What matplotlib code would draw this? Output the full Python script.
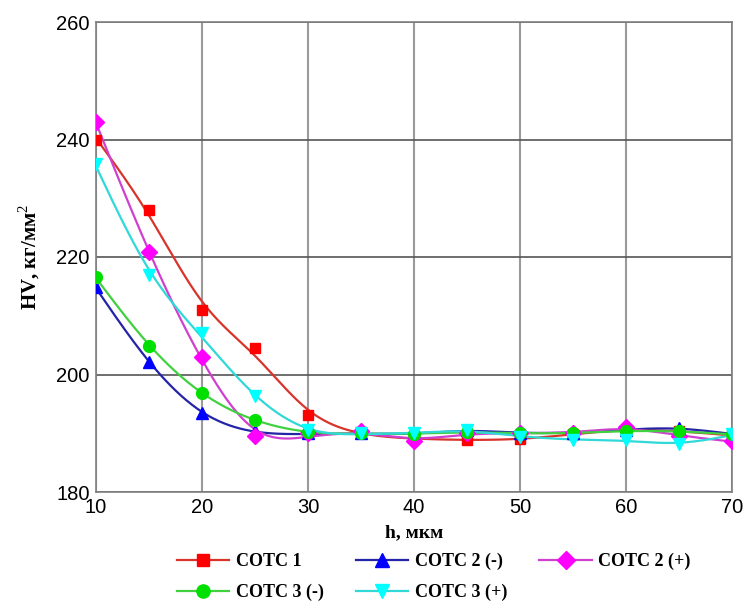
import numpy as np
import matplotlib
matplotlib.use("Agg")
import matplotlib.pyplot as plt
from matplotlib.lines import Line2D

plt.rcParams["mathtext.fontset"] = "custom"
plt.rcParams["mathtext.rm"] = "Liberation Serif"

h = [10, 15, 20, 25, 30, 35, 40, 45, 50, 55, 60, 65, 70]

sots1 = [240.0, 228.0, 211.0, 204.5, 193.1, 190.2, 189.2, 188.9, 189.0, 189.8, 190.6, 190.3, 189.6]
sots2_minus = [214.9, 202.1, 193.4, 190.3, 190.0, 190.0, 189.8, 190.6, 190.0, 190.1, 190.6, 190.9, 189.8]
sots2_plus = [243.0, 220.9, 202.9, 189.5, 190.0, 190.3, 188.7, 190.0, 190.0, 190.0, 191.0, 189.5, 188.6]
sots3_minus = [216.6, 204.9, 196.8, 192.3, 190.2, 190.0, 189.9, 190.2, 190.0, 190.0, 190.4, 190.3, 189.8]
sots3_plus = [235.9, 216.9, 207.1, 196.3, 190.5, 190.1, 190.0, 190.5, 189.4, 188.9, 188.9, 188.1, 189.8]

labels = ["СОТС 1", "СОТС 2 (-)", "СОТС 2 (+)", "СОТС 3 (-)", "СОТС 3 (+)"]
series = [sots1, sots2_minus, sots2_plus, sots3_minus, sots3_plus]
marker_colors = ["#ff0000", "#0000ff", "#ff00ff", "#00e000", "#00ffff"]
line_colors = ["#d8342c", "#2424a8", "#d040d0", "#40d040", "#30d8d8"]
markers = ["s", "^", "D", "o", "v"]
msizes = [7.5, 8.5, 8.5, 8.5, 8.5]


def smooth(x, y, lam=6000.0, step=0.1):
    x = np.asarray(x, float)
    y = np.asarray(y, float)
    xs = np.arange(x[0], x[-1] + step / 2, step)
    n = len(xs)
    idx = np.rint((x - x[0]) / step).astype(int)
    W = np.zeros(n)
    W[idx] = 1.0
    b = np.zeros(n)
    b[idx] = y
    D = np.diff(np.eye(n), 2, axis=0)
    A = np.diag(W) + lam * D.T @ D
    z = np.linalg.solve(A, b)
    return xs, z


fig = plt.figure(figsize=(7.44, 6.04), dpi=100)
ax = fig.add_axes([96 / 744, 1 - 492 / 604, (732 - 96) / 744, (492 - 22) / 604])

for ys, mc, lc, mk, ms in zip(series, marker_colors, line_colors, markers, msizes):
    sx, sy = smooth(h, ys)
    ax.plot(sx, sy, color=lc, lw=1.6, zorder=3)
    ax.plot(h, ys, linestyle="none", marker=mk, markersize=ms, color=mc,
            markeredgecolor=mc, zorder=4)

ax.set_xlim(10, 70)
ax.set_ylim(180, 260)
ax.set_xticks(range(10, 71, 10))
ax.set_yticks(range(180, 261, 20))
ax.tick_params(length=0, labelsize=14.5, pad=4.5)
for lab in ax.get_xticklabels() + ax.get_yticklabels():
    lab.set_fontfamily("Liberation Sans")
ax.xaxis.grid(True, color="#9a9a9a", lw=1.5)
ax.yaxis.grid(True, color="#555555", lw=1.2)
ax.set_axisbelow(True)
for s in ax.spines.values():
    s.set_color("#808080")
    s.set_linewidth(1.2)

ax.set_ylabel("HV, кг/мм$^{\\mathrm{2}}$", fontfamily="Liberation Serif", fontweight="bold",
              fontsize=15, labelpad=10)
ax.set_xlabel("h, мкм", fontfamily="Liberation Serif", fontweight="bold",
              fontsize=14, labelpad=5)

handles = []
for lab, mc, lc, mk, ms in zip(labels, marker_colors, line_colors, markers, msizes):
    handles.append(Line2D([0], [0], color=lc, lw=1.6, marker=mk, markersize=ms + 1,
                          markerfacecolor=mc, markeredgecolor=mc))
order = [0, 3, 1, 4, 2]
leg = fig.legend([handles[i] for i in order], [labels[i] for i in order],
                 loc="lower left", bbox_to_anchor=(166 / 744, -8 / 604), ncol=3,
                 frameon=False, prop={"family": "Liberation Serif", "weight": "bold", "size": 13},
                 handlelength=2.9, columnspacing=1.8, labelspacing=0.75, handletextpad=0.35,
                 borderaxespad=0.2)

fig.savefig("out.png", dpi=100)
